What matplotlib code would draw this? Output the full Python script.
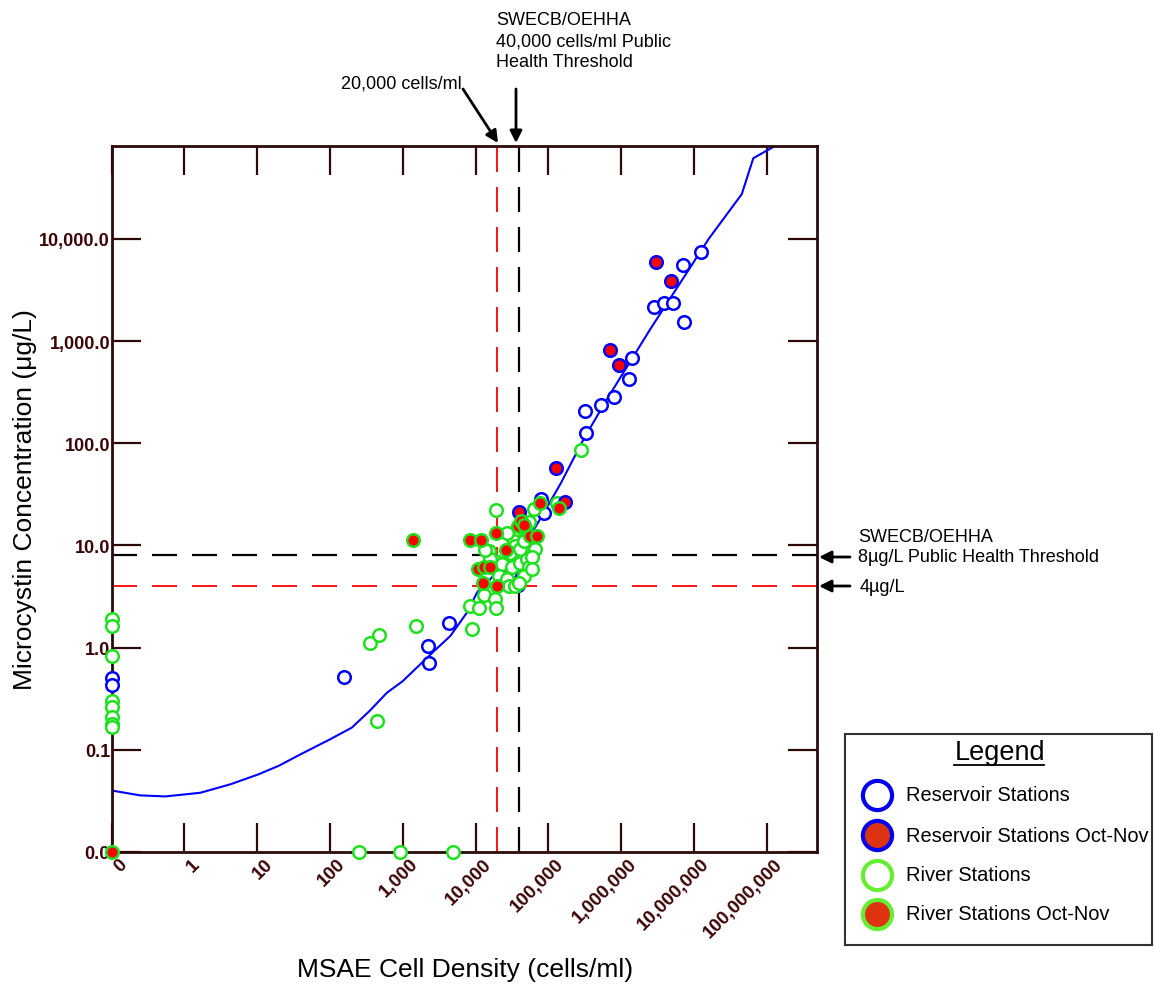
import numpy as np
import matplotlib
matplotlib.use("Agg")
import matplotlib.pyplot as plt
import matplotlib.transforms as mtransforms
from matplotlib.lines import Line2D

plt.rcParams['font.family'] = ['Liberation Sans', 'DejaVu Sans']

W, H = 1154, 987

# cell density (cells/ml) and microcystin (ug/L); zero values sit on the axes
res_x = [0, 0, 158, 2200, 2320, 4370, 25700, 30000, 38000, 79000, 86000,
         316000, 327000, 530000, 810000, 1.28e6, 1.42e6, 2.86e6, 3.85e6,
         5.1e6, 7.4e6, 7.0e6, 1.23e7]
res_y = [0.51, 0.43, 0.52, 1.03, 0.70, 1.75, 4.8, 5.4, 4.1, 28.4, 20.9,
         205, 125, 238, 287, 430, 690, 2170, 2350, 2350, 1550, 5570, 7520]

riv_x = [0, 0, 0, 0, 0, 0, 0, 0, 250, 930, 4900,
         359, 466, 1520, 443, 8940, 8300, 11000, 12900, 18600, 19000,
         19300, 283000, 131000, 63000,
         15100, 18600, 23000, 20800, 27000, 28500, 35000, 31600, 41200,
         51000, 53700, 45700, 31600, 35000, 30000, 41200, 45700, 37000,
         27000, 53700, 66000, 59500, 15900, 13600, 60000, 40000]
riv_y = [1.9, 1.63, 0.82, 0.30, 0.26, 0.21, 0.18, 0.166, 0, 0, 0,
         1.12, 1.33, 1.63, 0.19, 1.51, 2.56, 2.47, 3.3, 2.98, 2.47,
         22.3, 86, 26, 23,
         8.85, 7.06, 6.56, 5.04, 4.67, 4.02, 4.02, 6.1, 6.8,
         7.3, 6.1, 5.04, 12, 9.9, 8.5, 9.2, 11.1, 14.5,
         13.4, 16.8, 9.2, 7.8, 7.3, 9.06, 5.9, 4.3]

res_oct_x = [40000, 128000, 170000, 710000, 935000, 3.0e6, 4.84e6]
res_oct_y = [21.5, 57, 26.7, 820, 590, 5900, 3870]

riv_oct_x = [0, 1400, 8500, 11900, 19300, 38000, 42000, 46000, 77000, 138000,
             56700, 69800, 26500, 10800, 12900, 15600, 12700, 19800]
riv_oct_y = [0, 11.2, 11.4, 11.4, 13.4, 15.5, 17.2, 15.8, 26, 23.5,
             12.4, 12.4, 9.06, 5.86, 6.1, 6.1, 4.28, 4.02]

# fitted curve
fit_x = [0.1, 0.25, 0.55, 1.66, 4.3, 10.4, 20, 39, 101, 200, 350, 609, 1000,
         1740, 2800, 4500, 7640, 10500, 15960, 37150, 66300, 146000, 305000,
         640000, 2.52e6, 1.59e7, 4.54e7, 6.53e7, 1.01e8, 1.31e8]
fit_y = [0.040, 0.0358, 0.035, 0.038, 0.046, 0.0575, 0.070, 0.090, 0.127,
         0.165, 0.24, 0.363, 0.47, 0.687, 0.95, 1.30, 2.21, 3.47, 4.68, 9.62,
         15.1, 39.8, 110, 271, 1315, 10000, 27500, 61700, 73600, 81300]

x_ticks = [0, 1, 10, 100, 1000, 1e4, 1e5, 1e6, 1e7, 1e8]
x_labels = ['0', '1', '10', '100', '1,000', '10,000', '100,000', '1,000,000',
            '10,000,000', '100,000,000']
y_ticks = [0, 0.1, 1, 10, 100, 1000, 10000]
y_labels = ['0.0', '0.1', '1.0', '10.0', '100.0', '1,000.0', '10,000.0']

X0, Y0 = 0.1, 0.01   # where zero is placed on the log axes


def px(v):
    v = np.asarray(v, dtype=float)
    return np.where(v == 0, X0, v)


def py(v):
    v = np.asarray(v, dtype=float)
    return np.where(v == 0, Y0, v)


def fxy(x, y):
    return x / W, 1 - y / H


def dashed(lw, on_px=25, off_px=15):
    # dash pattern given in pixels, scaled by line width
    k = 0.72 / lw
    return (0, (on_px * k, off_px * k))


axis_col = '#2d0a0a'
lab_col = '#3c0505'
blue = '#0000ff'
green = '#1fe01f'
red = '#ff0000'
narrow = ['Liberation Sans Narrow', 'Liberation Sans']

fig = plt.figure(figsize=(W / 100, H / 100), dpi=100)
ax = fig.add_axes([111.5 / W, 1 - 853 / H, (817 - 111.5) / W, (853 - 147) / H])
ax.set_xscale('log')
ax.set_yscale('log')
ax.set_xlim(0.1, 10 ** 8.69)
ax.set_ylim(0.01, 10 ** 4.91)

# threshold lines
ax.axvline(20000, color=red, lw=1.3, ls=dashed(1.3), zorder=1)
ax.axvline(40000, color='black', lw=1.6, ls=dashed(1.6), zorder=1)
ax.axhline(8, color='black', lw=1.6, ls=dashed(1.6), zorder=1)
ax.axhline(4, color=red, lw=1.3, ls=dashed(1.3), zorder=1)

ax.plot(fit_x, fit_y, color=blue, lw=1.5, zorder=2)

ms = 82
lw = 1.8
ax.scatter(px(res_x), py(res_y), s=ms, facecolors='white', edgecolors=blue,
           linewidths=lw, zorder=3, clip_on=False)
ax.scatter(px(riv_x), py(riv_y), s=ms, facecolors='white', edgecolors=green,
           linewidths=lw, zorder=4, clip_on=False)
ax.scatter(px(res_oct_x), py(res_oct_y), s=ms, facecolors=red, edgecolors=blue,
           linewidths=lw, zorder=5, clip_on=False)
ax.scatter(px(riv_oct_x), py(riv_oct_y), s=ms, facecolors=red, edgecolors=green,
           linewidths=lw, zorder=5, clip_on=False)

# x tick labels drawn as slanted texts just under each tick
ax.set_xticks(px(x_ticks))
ax.set_xticklabels([])
xlab_trans = ax.get_xaxis_transform() + mtransforms.ScaledTranslation(
    7 / 100, -3 / 100, fig.dpi_scale_trans)
for xv, lab in zip(px(x_ticks), x_labels):
    ax.text(xv, 0, lab, transform=xlab_trans, rotation=45, ha='right',
            va='top', rotation_mode='anchor', fontsize=13.5, family=narrow,
            fontweight='bold', color=lab_col, clip_on=False)

ax.set_yticks(py(y_ticks))
ax.set_yticklabels(y_labels)
ax.minorticks_off()
for lab in ax.get_yticklabels():
    lab.set_fontsize(13)
    lab.set_family(narrow)
    lab.set_fontweight('bold')
    lab.set_color(lab_col)
ax.tick_params(which='both', direction='in', length=21, width=1.6,
               color=axis_col, top=True, right=True)
ax.tick_params(axis='y', pad=1)
for sp in ax.spines.values():
    sp.set_color(axis_col)
    sp.set_linewidth(2)

fig.text(*fxy(25, 500), 'Microcystin Concentration (\u03bcg/L)', rotation=90,
         ha='center', va='center', fontsize=19)
fig.text(*fxy(465, 970), 'MSAE Cell Density (cells/ml)', ha='center',
         va='center', fontsize=19, family=narrow)

# annotations
tfs = 13
fig.text(*fxy(462, 84), '20,000 cells/ml', ha='right', va='center', fontsize=tfs)
fig.text(*fxy(496, 12), 'SWECB/OEHHA\n40,000 cells/ml Public\nHealth Threshold',
         ha='left', va='top', fontsize=tfs, linespacing=1.32)
fig.text(*fxy(858, 537), 'SWECB/OEHHA', ha='left', va='center', fontsize=tfs)
fig.text(*fxy(858, 558), '8\u00b5g/L Public Health Threshold', ha='left',
         va='center', fontsize=tfs)
fig.text(*fxy(860, 587), '4\u00b5g/L', ha='left', va='center', fontsize=tfs)

arrow = dict(arrowstyle='-|>', color='black', lw=2, mutation_scale=18,
             shrinkA=0, shrinkB=0)
for start, end in [((463, 90), (498, 144)), ((516, 90), (516, 144)),
                   ((850, 558), (819, 558)), ((850, 587), (819, 587))]:
    ax.annotate('', xy=fxy(*end), xycoords='figure fraction',
                xytext=fxy(*start), textcoords='figure fraction',
                arrowprops=arrow, annotation_clip=False)

# legend box
lg = fig.add_axes([845 / W, 1 - 946 / H, 307 / W, 211 / H])
lg.set_xlim(0, 1)
lg.set_ylim(0, 1)
lg.set_xticks([])
lg.set_yticks([])
for sp in lg.spines.values():
    sp.set_color('#333333')
    sp.set_linewidth(1.5)
lg.text(0.505, 0.915, 'Legend', ha='center', va='center', fontsize=19.5)
lg.add_line(Line2D([0.355, 0.648], [0.855, 0.855], color='black', lw=1.3))

leg_rows = [('Reservoir Stations', 'white', '#0000ee'),
            ('Reservoir Stations Oct-Nov', '#dd3311', '#0000ee'),
            ('River Stations', 'white', '#66ee33'),
            ('River Stations Oct-Nov', '#dd3311', '#66ee33')]
row_y = [0.711, 0.521, 0.332, 0.147]
for (name, fc, ec), yy in zip(leg_rows, row_y):
    lg.plot([0.104], [yy], 'o', ms=21, mfc=fc, mec=ec, mew=3)
    lg.text(0.199, yy, name, ha='left', va='center', fontsize=14.4)

fig.savefig('out.png', dpi=100)
